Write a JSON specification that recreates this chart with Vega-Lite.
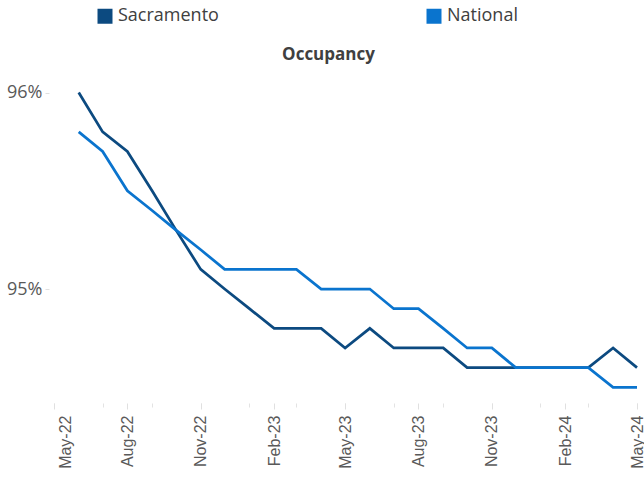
{
  "$schema": "https://vega.github.io/schema/vega-lite/v6.json",
  "autosize": {"type": "none"},
  "width": 583,
  "height": 334,
  "padding": {"left": 54, "top": 69, "right": 7, "bottom": 77},
  "background": "white",
  "title": {
    "text": "Occupancy",
    "anchor": "middle",
    "frame": "group",
    "dx": -17,
    "offset": -70,
    "baseline": "alphabetic",
    "font": "Open Sans",
    "fontSize": 17,
    "fontWeight": "bold",
    "color": "#404040"
  },
  "config": {"view": {"stroke": null}},
  "data": {
    "values": [
      {"date": "2022-06-01", "series": "Sacramento", "value": 96.0},
      {"date": "2022-07-01", "series": "Sacramento", "value": 95.8},
      {"date": "2022-08-01", "series": "Sacramento", "value": 95.7},
      {"date": "2022-09-01", "series": "Sacramento", "value": 95.5},
      {"date": "2022-10-01", "series": "Sacramento", "value": 95.3},
      {"date": "2022-11-01", "series": "Sacramento", "value": 95.1},
      {"date": "2022-12-01", "series": "Sacramento", "value": 95.0},
      {"date": "2023-01-01", "series": "Sacramento", "value": 94.9},
      {"date": "2023-02-01", "series": "Sacramento", "value": 94.8},
      {"date": "2023-03-01", "series": "Sacramento", "value": 94.8},
      {"date": "2023-04-01", "series": "Sacramento", "value": 94.8},
      {"date": "2023-05-01", "series": "Sacramento", "value": 94.7},
      {"date": "2023-06-01", "series": "Sacramento", "value": 94.8},
      {"date": "2023-07-01", "series": "Sacramento", "value": 94.7},
      {"date": "2023-08-01", "series": "Sacramento", "value": 94.7},
      {"date": "2023-09-01", "series": "Sacramento", "value": 94.7},
      {"date": "2023-10-01", "series": "Sacramento", "value": 94.6},
      {"date": "2023-11-01", "series": "Sacramento", "value": 94.6},
      {"date": "2023-12-01", "series": "Sacramento", "value": 94.6},
      {"date": "2024-01-01", "series": "Sacramento", "value": 94.6},
      {"date": "2024-02-01", "series": "Sacramento", "value": 94.6},
      {"date": "2024-03-01", "series": "Sacramento", "value": 94.6},
      {"date": "2024-04-01", "series": "Sacramento", "value": 94.7},
      {"date": "2024-05-01", "series": "Sacramento", "value": 94.6},
      {"date": "2022-06-01", "series": "National", "value": 95.8},
      {"date": "2022-07-01", "series": "National", "value": 95.7},
      {"date": "2022-08-01", "series": "National", "value": 95.5},
      {"date": "2022-09-01", "series": "National", "value": 95.4},
      {"date": "2022-10-01", "series": "National", "value": 95.3},
      {"date": "2022-11-01", "series": "National", "value": 95.2},
      {"date": "2022-12-01", "series": "National", "value": 95.1},
      {"date": "2023-01-01", "series": "National", "value": 95.1},
      {"date": "2023-02-01", "series": "National", "value": 95.1},
      {"date": "2023-03-01", "series": "National", "value": 95.1},
      {"date": "2023-04-01", "series": "National", "value": 95.0},
      {"date": "2023-05-01", "series": "National", "value": 95.0},
      {"date": "2023-06-01", "series": "National", "value": 95.0},
      {"date": "2023-07-01", "series": "National", "value": 94.9},
      {"date": "2023-08-01", "series": "National", "value": 94.9},
      {"date": "2023-09-01", "series": "National", "value": 94.8},
      {"date": "2023-10-01", "series": "National", "value": 94.7},
      {"date": "2023-11-01", "series": "National", "value": 94.7},
      {"date": "2023-12-01", "series": "National", "value": 94.6},
      {"date": "2024-01-01", "series": "National", "value": 94.6},
      {"date": "2024-02-01", "series": "National", "value": 94.6},
      {"date": "2024-03-01", "series": "National", "value": 94.6},
      {"date": "2024-04-01", "series": "National", "value": 94.5},
      {"date": "2024-05-01", "series": "National", "value": 94.5}
    ]
  },
  "resolve": {"axis": {"x": "independent"}},
  "layer": [
    {
      "transform": [{"filter": "datum.series == 'Sacramento'"}],
      "mark": {"type": "line", "strokeWidth": 2.75, "strokeJoin": "miter", "clip": false},
      "encoding": {
        "x": {
          "field": "date",
          "type": "temporal",
          "timeUnit": "utcyearmonth",
          "scale": {
            "domain": [
              {"year": 2022, "month": 5, "date": 1, "utc": true},
              {"year": 2024, "month": 5, "date": 1, "utc": true}
            ]
          },
          "axis": {
            "orient": "bottom",
            "title": null,
            "domain": false,
            "grid": false,
            "labels": false,
            "values": [
              {"year": 2022, "month": 5, "date": 1, "utc": true},
              {"year": 2022, "month": 6, "date": 1, "utc": true},
              {"year": 2022, "month": 7, "date": 1, "utc": true},
              {"year": 2022, "month": 8, "date": 1, "utc": true},
              {"year": 2022, "month": 9, "date": 1, "utc": true},
              {"year": 2022, "month": 10, "date": 1, "utc": true},
              {"year": 2022, "month": 11, "date": 1, "utc": true},
              {"year": 2022, "month": 12, "date": 1, "utc": true},
              {"year": 2023, "month": 1, "date": 1, "utc": true},
              {"year": 2023, "month": 2, "date": 1, "utc": true},
              {"year": 2023, "month": 3, "date": 1, "utc": true},
              {"year": 2023, "month": 4, "date": 1, "utc": true},
              {"year": 2023, "month": 5, "date": 1, "utc": true},
              {"year": 2023, "month": 6, "date": 1, "utc": true},
              {"year": 2023, "month": 7, "date": 1, "utc": true},
              {"year": 2023, "month": 8, "date": 1, "utc": true},
              {"year": 2023, "month": 9, "date": 1, "utc": true},
              {"year": 2023, "month": 10, "date": 1, "utc": true},
              {"year": 2023, "month": 11, "date": 1, "utc": true},
              {"year": 2023, "month": 12, "date": 1, "utc": true},
              {"year": 2024, "month": 1, "date": 1, "utc": true},
              {"year": 2024, "month": 2, "date": 1, "utc": true},
              {"year": 2024, "month": 3, "date": 1, "utc": true},
              {"year": 2024, "month": 4, "date": 1, "utc": true},
              {"year": 2024, "month": 5, "date": 1, "utc": true}
            ],
            "tickSize": 4,
            "tickColor": "#e3e3e3",
            "tickWidth": 1
          }
        },
        "y": {
          "field": "value",
          "type": "quantitative",
          "scale": {"domain": [94.42, 96.12], "zero": false, "nice": false},
          "axis": {
            "title": null,
            "domain": false,
            "grid": false,
            "values": [95, 96],
            "labelExpr": "datum.value + '%'",
            "labelFont": "Open Sans",
            "labelFontSize": 18,
            "labelColor": "#595959",
            "labelPadding": 3,
            "offset": 5,
            "tickSize": 4,
            "tickColor": "#e0e0e0"
          }
        },
        "color": {
          "field": "series",
          "type": "nominal",
          "scale": {"domain": ["Sacramento", "National"], "range": ["#0C4A80", "#0A74CE"]},
          "legend": {
            "title": null,
            "orient": "none",
            "direction": "horizontal",
            "legendX": 42,
            "legendY": -62,
            "padding": 0,
            "symbolType": "square",
            "symbolSize": 49,
            "symbolStrokeWidth": 8,
            "symbolOpacity": 1,
            "labelFont": "Open Sans",
            "labelFontSize": 18,
            "labelColor": "#404040",
            "labelOffset": 4,
            "columnPadding": 195,
            "labelLimit": 300
          }
        }
      }
    },
    {
      "transform": [{"filter": "datum.series == 'National'"}],
      "mark": {"type": "line", "strokeWidth": 2.75, "strokeJoin": "miter", "clip": false},
      "encoding": {
        "x": {
          "field": "date",
          "type": "temporal",
          "timeUnit": "utcyearmonth",
          "axis": {
            "orient": "bottom",
            "title": null,
            "domain": false,
            "grid": false,
            "values": [
              {"year": 2022, "month": 5, "date": 1, "utc": true},
              {"year": 2022, "month": 8, "date": 1, "utc": true},
              {"year": 2022, "month": 11, "date": 1, "utc": true},
              {"year": 2023, "month": 2, "date": 1, "utc": true},
              {"year": 2023, "month": 5, "date": 1, "utc": true},
              {"year": 2023, "month": 8, "date": 1, "utc": true},
              {"year": 2023, "month": 11, "date": 1, "utc": true},
              {"year": 2024, "month": 2, "date": 1, "utc": true},
              {"year": 2024, "month": 5, "date": 1, "utc": true}
            ],
            "format": "%b-%y",
            "labelAngle": -90,
            "labelFont": "Liberation Sans",
            "labelFontSize": 16,
            "labelColor": "#595959",
            "labelPadding": 6,
            "labelOverlap": false,
            "labelFlush": false,
            "labelBound": false,
            "labelOffset": {"condition": {"test": "utcyear(datum.value) == 2022 && utcmonth(datum.value) == 4", "value": 11}, "value": 0},
            "tickSize": 6,
            "tickColor": "#e0e0e0",
            "tickWidth": 1
          }
        },
        "y": {
          "field": "value",
          "type": "quantitative"
        },
        "color": {
          "field": "series",
          "type": "nominal"
        }
      }
    }
  ]
}
